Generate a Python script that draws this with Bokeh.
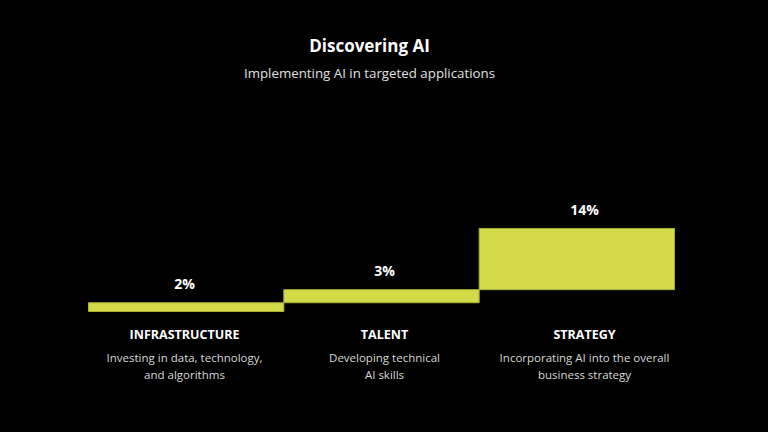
import numpy as np
from bokeh.plotting import figure
from bokeh.models import ColumnDataSource, Range1d
from bokeh.core.properties import value
from bokeh.embed import file_html
from bokeh.resources import INLINE

title = "Discovering AI"
subtitle = "Implementing AI in targeted applications"
categories = ["INFRASTRUCTURE", "TALENT", "STRATEGY"]
values = [2, 3, 14]
desc_line1 = ["Investing in data, technology,", "Developing technical", "Incorporating AI into the overall"]
desc_line2 = ["and algorithms", "AI skills", "business strategy"]
value_labels = [f"{v}%" for v in values]

W, H = 752, 416
FONT = value("Open Sans")
BAR = "#d3da47"

unit_px = (674 - 88) / 3.0
x_start = -0.5 - 88 / unit_px
x_end = x_start + W / unit_px
k = 4.37
zero_px = 311
y_end = zero_px / k
y_start = -(H - zero_px) / k
x_title = x_start + 369 / unit_px

x = np.arange(len(values))
# text columns are spaced slightly wider than the bars
text_x = x_start + (384 + (x - 1) * 200) / unit_px
tops = np.cumsum(values)
bottoms = tops - np.array(values)

src = ColumnDataSource(dict(x=x, tx=text_x, top=tops, bottom=bottoms, lab=value_labels,
                            cat=categories, d1=desc_line1, d2=desc_line2,
                            zero=np.zeros(len(values))))

p = figure(width=W, height=H, output_backend="svg", toolbar_location=None,
           x_range=Range1d(x_start, x_end), y_range=Range1d(y_start, y_end),
           min_border=0, background_fill_color="black", border_fill_color="black",
           outline_line_color=None)
p.axis.visible = False
p.grid.visible = False

p.vbar(x="x", top="top", bottom="bottom", width=1.0, source=src,
       fill_color=BAR, line_color="#aab133", line_width=1)

p.text(x="tx", y="top", text="lab", source=src, text_align="center",
       text_baseline="alphabetic", y_offset=-19, text_color="white",
       text_font=FONT, text_font_size="14px", text_font_style="bold")

p.text(x="tx", y="zero", text="cat", source=src, text_align="center",
       text_baseline="middle", y_offset=23, text_color="white",
       text_font=FONT, text_font_size="12.5px", text_font_style="bold")
p.text(x="tx", y="zero", text="d1", source=src, text_align="center",
       text_baseline="middle", y_offset=46, text_color="#d8d8d8",
       text_font=FONT, text_font_size="11.5px")
p.text(x="tx", y="zero", text="d2", source=src, text_align="center",
       text_baseline="middle", y_offset=63, text_color="#d8d8d8",
       text_font=FONT, text_font_size="11.5px")

p.text(x=[x_title], y=[y_end], text=[title], text_align="center", text_baseline="middle",
       y_offset=45, text_color="white", text_font=FONT, text_font_size="17px",
       text_font_style="bold")
p.text(x=[x_title], y=[y_end], text=[subtitle], text_align="center", text_baseline="middle",
       y_offset=72, text_color="#e0e0e0", text_font=FONT, text_font_size="13.3px")

html = file_html(p, INLINE)
html = html.replace("<head>", "<head><style>html,body{background:#000;}</style>", 1)
open("out.html", "w").write(html)
